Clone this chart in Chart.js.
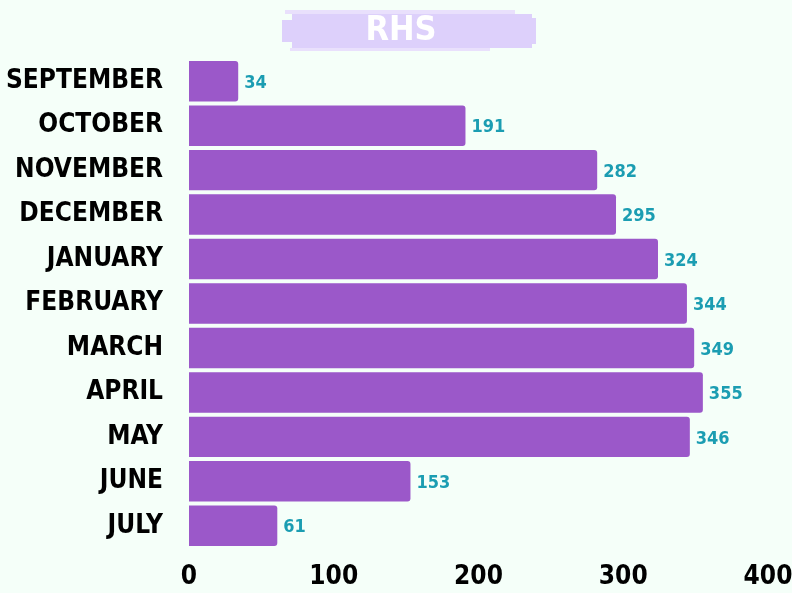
<!DOCTYPE html>
<html>
<head>
<meta charset="utf-8">
<script src="https://cdn.jsdelivr.net/npm/chart.js@4"></script>
<style>
  html, body { margin: 0; padding: 0; background: #f5fff9; }
</style>
</head>
<body>
<canvas id="chart" width="792" height="593"></canvas>
<script>
const titleText = "RHS";
const months = ["SEPTEMBER", "OCTOBER", "NOVEMBER", "DECEMBER", "JANUARY", "FEBRUARY", "MARCH", "APRIL", "MAY", "JUNE", "JULY"];
const counts = [34, 191, 282, 295, 324, 344, 349, 355, 346, 153, 61];
const xTicks = [0, 100, 200, 300, 400];

const labelFont = "'DejaVu Sans Condensed', 'Liberation Sans Narrow', sans-serif";

// lavender brush stroke with the title on top of it
const brushTitle = {
  id: "brushTitle",
  beforeDraw(chart) {
    const ctx = chart.ctx;
    ctx.save();
    ctx.fillStyle = "#ddd0fb";
    ctx.fillRect(292, 14, 240, 34);
    ctx.fillRect(282, 20, 20, 22);
    ctx.fillRect(530, 18, 6, 26);
    ctx.fillStyle = "#e9e0fc";
    ctx.fillRect(285, 10, 230, 4);
    ctx.fillRect(290, 48, 200, 3);
    ctx.fillStyle = "#ffffff";
    ctx.font = "bold 34px " + labelFont;
    ctx.textAlign = "center";
    ctx.textBaseline = "middle";
    ctx.fillText(titleText, 401, 31);
    ctx.restore();
  },
};

// value labels at the end of each bar
const barValues = {
  id: "barValues",
  afterDatasetsDraw(chart) {
    const ctx = chart.ctx;
    const meta = chart.getDatasetMeta(0);
    ctx.save();
    ctx.fillStyle = "#1b9db2";
    ctx.font = "bold 18px " + labelFont;
    ctx.textBaseline = "middle";
    meta.data.forEach((bar, i) => {
      ctx.fillText(String(counts[i]), bar.x + 6, bar.y + 2);
    });
    ctx.restore();
  },
};

new Chart(document.getElementById("chart"), {
  type: "bar",
  data: {
    labels: months,
    datasets: [
      {
        data: counts,
        backgroundColor: "#9b58c9",
        borderRadius: 3,
        borderSkipped: "start",
        barPercentage: 0.91,
        categoryPercentage: 1,
      },
    ],
  },
  options: {
    indexAxis: "y",
    responsive: false,
    animation: false,
    layout: { padding: { left: 0, right: 24, top: 59, bottom: 0 } },
    plugins: {
      legend: { display: false },
      tooltip: { enabled: false },
      title: { display: false },
    },
    scales: {
      x: {
        min: 0,
        max: 400,
        afterBuildTicks: (axis) => {
          axis.ticks = xTicks.map((v) => ({ value: v }));
        },
        afterFit: (axis) => {
          axis.height = 45;
          axis.paddingLeft = 0;
          axis.paddingRight = 0;
        },
        grid: { display: false },
        border: { display: false },
        ticks: {
          color: "#000000",
          font: { family: labelFont, size: 26, weight: "bold" },
          padding: 6,
          maxRotation: 0,
        },
      },
      y: {
        afterFit: (axis) => {
          axis.width = 189;
          axis.paddingTop = 0;
          axis.paddingBottom = 0;
        },
        grid: { display: false },
        border: { display: false },
        ticks: {
          color: "#000000",
          font: { family: labelFont, size: 26, weight: "bold" },
          padding: 18,
        },
      },
    },
  },
  plugins: [brushTitle, barValues],
});
</script>
</body>
</html>
